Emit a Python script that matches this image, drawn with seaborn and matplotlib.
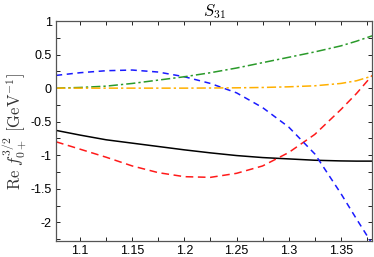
import numpy as np
import pandas as pd
import matplotlib
matplotlib.use('Agg')
import matplotlib.pyplot as plt
import seaborn as sns
from matplotlib.ticker import MultipleLocator

# energy grid (GeV)
W = [1.077, 1.1, 1.125, 1.15, 1.175, 1.2, 1.225, 1.25, 1.275, 1.3, 1.325, 1.35, 1.365, 1.38]

black = [-0.63, -0.70, -0.77, -0.82, -0.87, -0.92, -0.965, -1.005, -1.035, -1.055, -1.075, -1.085, -1.088, -1.088]
red = [-0.80, -0.91, -1.03, -1.16, -1.26, -1.32, -1.33, -1.27, -1.16, -0.96, -0.69, -0.32, -0.08, 0.19]
blue = [0.19, 0.23, 0.26, 0.27, 0.24, 0.17, 0.07, -0.07, -0.29, -0.58, -0.98, -1.57, -1.95, -2.32]
green = [0.0, 0.01, 0.03, 0.07, 0.12, 0.17, 0.23, 0.30, 0.38, 0.46, 0.54, 0.63, 0.70, 0.78]
orange = [0.0, 0.0, 0.0, 0.0, 0.0, 0.0, 0.002, 0.005, 0.01, 0.02, 0.035, 0.07, 0.11, 0.18]

series = [
    ('black', black, '#000000', '-'),
    ('red', red, '#ff1a1a', (0, (5, 3))),
    ('blue', blue, '#1a1aff', (0, (4, 3))),
    ('green', green, '#2a9a2a', (0, (6, 2, 1.5, 2))),
    ('orange', orange, '#ffb000', (0, (6, 2, 1.5, 2))),
]

plt.rcParams['mathtext.fontset'] = 'cm'
plt.rcParams['font.family'] = ['Liberation Sans', 'DejaVu Sans']

fig = plt.figure(figsize=(3.74, 2.57), dpi=100)
ax = fig.add_axes([0.150, 0.062, 0.845, 0.856])

for name, vals, col, ls in series:
    df = pd.DataFrame({'W': W, 'f': vals})
    sns.lineplot(data=df, x='W', y='f', ax=ax, color=col, linewidth=1.1, linestyle=ls)

ax.set_xlim(1.077, 1.38)
ax.set_ylim(-2.28, 1.0)
ax.xaxis.set_minor_locator(MultipleLocator(0.025))
ax.yaxis.set_minor_locator(MultipleLocator(0.25))
ax.set_yticks([1, 0.5, 0, -0.5, -1, -1.5, -2])
ax.set_yticklabels(['1', '0.5', '0', '-0.5', '-1', '-1.5', '-2'])
ax.set_xticks([1.1, 1.15, 1.2, 1.25, 1.3, 1.35])
ax.set_xticklabels(['1.1', '1.15', '1.2', '1.25', '1.3', '1.35'])
ax.tick_params(which='both', direction='in', top=True, right=True, length=3, width=0.6,
               labelsize=9, pad=3)
for s in ax.spines.values():
    s.set_linewidth(0.9)
    s.set_color('#555555')

ax.set_xlabel('')
ax.set_ylabel(r'$\mathrm{Re}\ f_{0+}^{3/2}\ [\mathrm{GeV}^{-1}]$', fontsize=12, color='#333333', labelpad=1)
ax.set_title(r'$S_{31}$', fontsize=12, pad=2)

plt.savefig('out.png', dpi=100)
